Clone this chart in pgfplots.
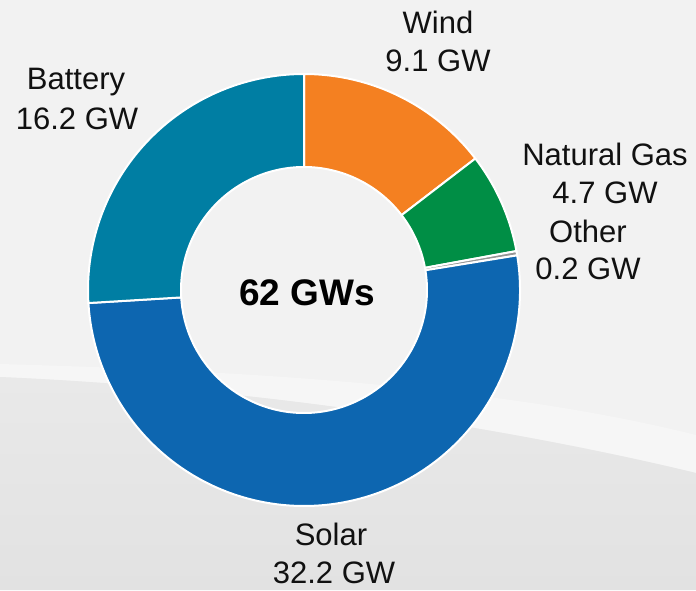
\documentclass[border=0pt]{standalone}
\usepackage{pgfplots}
\usepackage{pgfplotstable}
\pgfplotsset{compat=1.18}
\usepackage{fontspec}
\setmainfont{Liberation Sans}
\definecolor{cWind}{RGB}{244,128,33}
\definecolor{cGas}{RGB}{0,142,69}
\definecolor{cOther}{RGB}{150,150,150}
\definecolor{cSolar}{RGB}{13,102,176}
\definecolor{cBattery}{RGB}{0,126,163}
\definecolor{bgTop}{RGB}{242,242,242}
\definecolor{bgLow}{RGB}{233,233,233}
\definecolor{bgBand}{RGB}{246,246,246}
\definecolor{txt}{RGB}{17,17,17}

\pgfplotstableread{
name value
Wind 9.1
NaturalGas 4.7
Other 0.2
Solar 32.2
Battery 16.2
}\donutdata

\begin{document}
\begin{tikzpicture}
\pgfplotstablegetelem{0}{value}\of\donutdata \let\vA\pgfplotsretval
\pgfplotstablegetelem{1}{value}\of\donutdata \let\vB\pgfplotsretval
\pgfplotstablegetelem{2}{value}\of\donutdata \let\vC\pgfplotsretval
\pgfplotstablegetelem{3}{value}\of\donutdata \let\vD\pgfplotsretval
\pgfplotstablegetelem{4}{value}\of\donutdata \let\vE\pgfplotsretval
\pgfmathsetmacro\tot{\vA+\vB+\vC+\vD+\vE}
\pgfmathsetmacro\aA{90}
\pgfmathsetmacro\aB{\aA-360*\vA/\tot}
\pgfmathsetmacro\aC{\aB-360*\vB/\tot}
\pgfmathsetmacro\aD{\aC-360*\vC/\tot}
\pgfmathsetmacro\aE{\aD-360*\vD/\tot}
\pgfmathsetmacro\aF{\aE-360*\vE/\tot}
\def\R{216}\def\r{123}\def\cx{304}\def\cy{300}
\pgfmathsetmacro\dd{\R-\r}
\newcommand\slice[3]{\fill[#3, draw=white, line width=2pt, line join=round]
  (axis cs:\cx,\cy) ++(#1:\R pt) arc[start angle=#1, end angle=#2, radius=\R pt]
  -- ++({#2+180}:\dd pt) arc[start angle=#2, end angle=#1, radius=\r pt] -- cycle;}
\begin{axis}[
  scale only axis, width=696pt, height=590pt,
  xmin=0, xmax=696, ymin=0, ymax=590,
  hide axis, clip=false]
  % background
  \fill[bgTop] (axis cs:0,0) rectangle (axis cs:696,590);
  \fill[bgBand] (axis cs:0,226) .. controls (axis cs:250,219) and (axis cs:500,204) .. (axis cs:696,155)
     -- (axis cs:696,117) .. controls (axis cs:560,150) and (axis cs:300,200) .. (axis cs:0,213) -- cycle;
  \shade[top color=bgLow, bottom color=bgLow!97!black] (axis cs:0,0) -- (axis cs:0,213) .. controls (axis cs:300,200) and (axis cs:560,150) .. (axis cs:696,117) -- (axis cs:696,0) -- cycle;
  % donut slices
  \slice{\aA}{\aB}{cWind}
  \slice{\aB}{\aC}{cGas}
  \slice{\aC}{\aD}{cOther}
  \slice{\aD}{\aE}{cSolar}
  \slice{\aE}{\aF}{cBattery}
  % labels
  \begin{scope}[every node/.style={anchor=base, text=txt, font=\fontsize{31}{37}\selectfont, inner sep=0pt}]
  \node at (axis cs:438,556) {Wind};
  \node at (axis cs:438,518) {9.1 GW};
  \node at (axis cs:605,424) {Natural Gas};
  \node at (axis cs:605,386) {4.7 GW};
  \node at (axis cs:588,347) {Other};
  \node at (axis cs:588,310) {0.2 GW};
  \node at (axis cs:76,500) {Battery};
  \node at (axis cs:77,460) {16.2 GW};
  \node at (axis cs:331,45) {Solar};
  \node at (axis cs:334,7) {32.2 GW};
  \end{scope}
  \node[anchor=base, text=black, font=\fontsize{37}{44}\selectfont\bfseries, inner sep=0pt] at (axis cs:307,285) {62 GWs};
\end{axis}
\end{tikzpicture}
\end{document}
